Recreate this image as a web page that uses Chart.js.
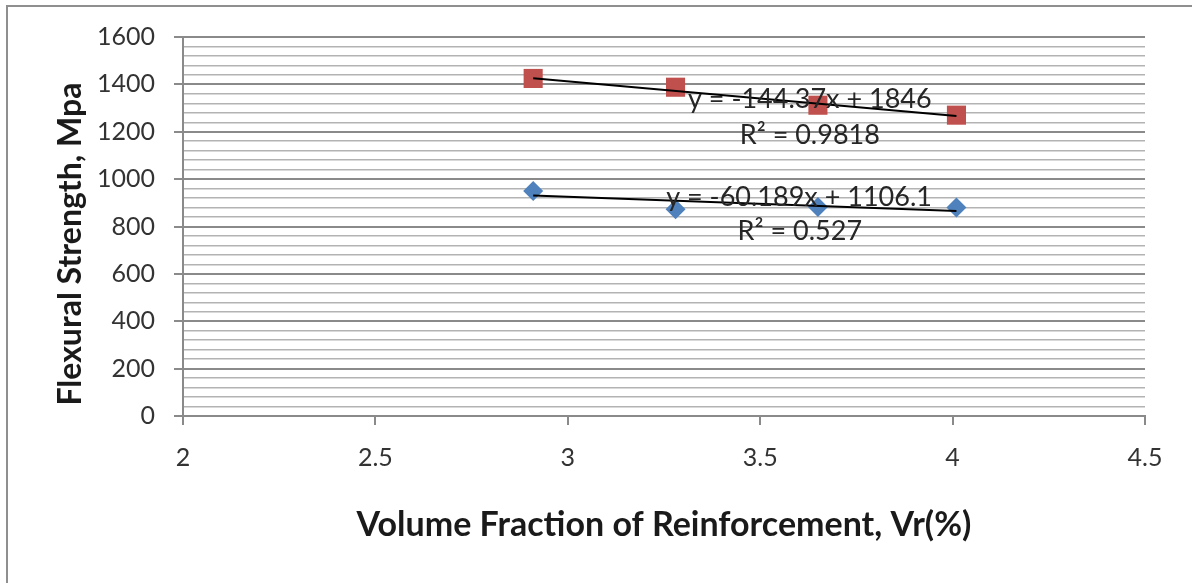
<!DOCTYPE html>
<html>
<head>
<meta charset="utf-8">
<script src="https://cdn.jsdelivr.net/npm/chart.js@4/dist/chart.umd.min.js"></script>
<style>
  html, body { margin: 0; padding: 0; background: #ffffff; }
  #wrap { position: relative; width: 1192px; height: 583px; }
</style>
</head>
<body>
<div id="wrap"><canvas id="c" width="1192" height="583"></canvas></div>
<script>
// ---- data ----
const xValues = [2.91, 3.28, 3.65, 4.01];
const redSeries = [1425, 1388, 1312, 1270];
const blueSeries = [950, 873, 882, 880];
const trendX = [2.91, 4.01];
const redTrend = [1426, 1267];
const blueTrend = [931, 865];
const xTicks = [2, 2.5, 3, 3.5, 4, 4.5];
const yTicks = [0, 200, 400, 600, 800, 1000, 1200, 1400, 1600];
const redEqText = ['y = -144.37x + 1846', 'R² = 0.9818'];
const blueEqText = ['y = -60.189x + 1106.1', 'R² = 0.527'];
const xTitle = 'Volume Fraction of Reinforcement, Vr(%)';
const yTitle = 'Flexural Strength, Mpa';

const toPts = (xs, ys) => xs.map((x, i) => ({x: x, y: ys[i]}));

const RED = '#C0504D';
const BLUE = '#4F81BD';

// annotation anchors, expressed in data units
const annotations = [
  {text: redEqText[0], x: 3.629, y: 1336},
  {text: redEqText[1], x: 3.629, y: 1183},
  {text: blueEqText[0], x: 3.601, y: 922},
  {text: blueEqText[1], x: 3.603, y: 779}
];

const framePlugin = {
  id: 'frame',
  beforeDraw(chart) {
    const ctx = chart.ctx;
    ctx.save();
    ctx.fillStyle = '#ffffff';
    ctx.fillRect(0, 0, chart.width, chart.height);
    ctx.strokeStyle = '#8f8f8f';
    ctx.lineWidth = 2;
    ctx.beginPath();
    ctx.moveTo(7, chart.height);
    ctx.lineTo(7, 6);
    ctx.lineTo(chart.width, 6);
    ctx.stroke();
    ctx.restore();
  }
};

const titlePlugin = {
  id: 'titles',
  afterDraw(chart) {
    const ctx = chart.ctx;
    const a = chart.chartArea;
    ctx.save();
    ctx.fillStyle = '#1a1a1a';
    ctx.textAlign = 'center';
    ctx.textBaseline = 'middle';
    ctx.font = 'bold 34px Lato';
    ctx.fillText(xTitle, (a.left + a.right) / 2, 525);
    ctx.font = 'bold 32px Lato';
    ctx.translate(71, 244);
    ctx.rotate(-Math.PI / 2);
    ctx.fillText(yTitle, 0, 0);
    ctx.restore();
  }
};

const annoPlugin = {
  id: 'anno',
  afterDatasetsDraw(chart) {
    const ctx = chart.ctx;
    const xs = chart.scales.x, ys = chart.scales.y;
    ctx.save();
    ctx.font = '27px Lato';
    ctx.fillStyle = '#262626';
    ctx.textAlign = 'center';
    ctx.textBaseline = 'middle';
    annotations.forEach(an => {
      ctx.fillText(an.text, xs.getPixelForValue(an.x), ys.getPixelForValue(an.y));
    });
    ctx.restore();
  }
};

new Chart(document.getElementById('c'), {
  type: 'scatter',
  data: {
    datasets: [
      {
        type: 'line', label: 'trend red', data: toPts(trendX, redTrend),
        borderColor: '#000000', borderWidth: 2, pointRadius: 0, fill: false
      },
      {
        type: 'line', label: 'trend blue', data: toPts(trendX, blueTrend),
        borderColor: '#000000', borderWidth: 2, pointRadius: 0, fill: false
      },
      {
        label: 'red', data: toPts(xValues, redSeries),
        pointStyle: 'rect', pointRadius: 13.5, backgroundColor: RED, borderColor: RED, borderWidth: 0
      },
      {
        label: 'blue', data: toPts(xValues, blueSeries),
        pointStyle: 'rectRot', pointRadius: 10, backgroundColor: BLUE, borderColor: BLUE, borderWidth: 0
      }
    ]
  },
  options: {
    responsive: false,
    animation: false,
    devicePixelRatio: 1,
    layout: { padding: { left: 0, top: 37, right: 47, bottom: 0 } },
    plugins: { legend: { display: false }, tooltip: { enabled: false } },
    scales: {
      x: {
        type: 'linear', min: 2, max: 4.5,
        afterBuildTicks(scale) { scale.ticks = xTicks.map(v => ({value: v})); },
        afterFit(scale) { scale.height = 167; },
        ticks: {
          autoSkip: false, maxRotation: 0, padding: 18,
          color: '#333333', font: { family: 'Lato', size: 25 },
          callback: v => String(v)
        },
        grid: { drawOnChartArea: false, drawTicks: true, tickLength: 9, tickColor: '#8a8a8a', lineWidth: 2 },
        border: { display: true, color: '#8a8a8a', width: 2 }
      },
      y: {
        type: 'linear', min: 0, max: 1600,
        afterBuildTicks(scale) {
          const t = [];
          for (let i = 0; i < yTicks.length - 1; i++) {
            for (let k = 0; k < 5; k++) t.push({value: yTicks[i] + k * (yTicks[i + 1] - yTicks[i]) / 5});
          }
          t.push({value: yTicks[yTicks.length - 1]});
          scale.ticks = t;
        },
        afterFit(scale) { scale.width = 183; },
        ticks: {
          autoSkip: false, padding: 19,
          color: '#333333', font: { family: 'Lato', size: 25 },
          callback: v => (yTicks.includes(v) ? String(v) : '')
        },
        grid: {
          drawTicks: true, tickLength: 9,
          color: ctx => (ctx.tick && yTicks.includes(ctx.tick.value)) ? '#8a8a8a' : '#b3b3b3',
          lineWidth: ctx => (ctx.tick && yTicks.includes(ctx.tick.value)) ? 2 : 1.5,
          tickColor: ctx => (ctx.tick && yTicks.includes(ctx.tick.value)) ? '#8a8a8a' : 'rgba(0,0,0,0)'
        },
        border: { display: true, color: '#8a8a8a', width: 2 }
      }
    }
  },
  plugins: [framePlugin, annoPlugin, titlePlugin]
});
</script>
</body>
</html>
